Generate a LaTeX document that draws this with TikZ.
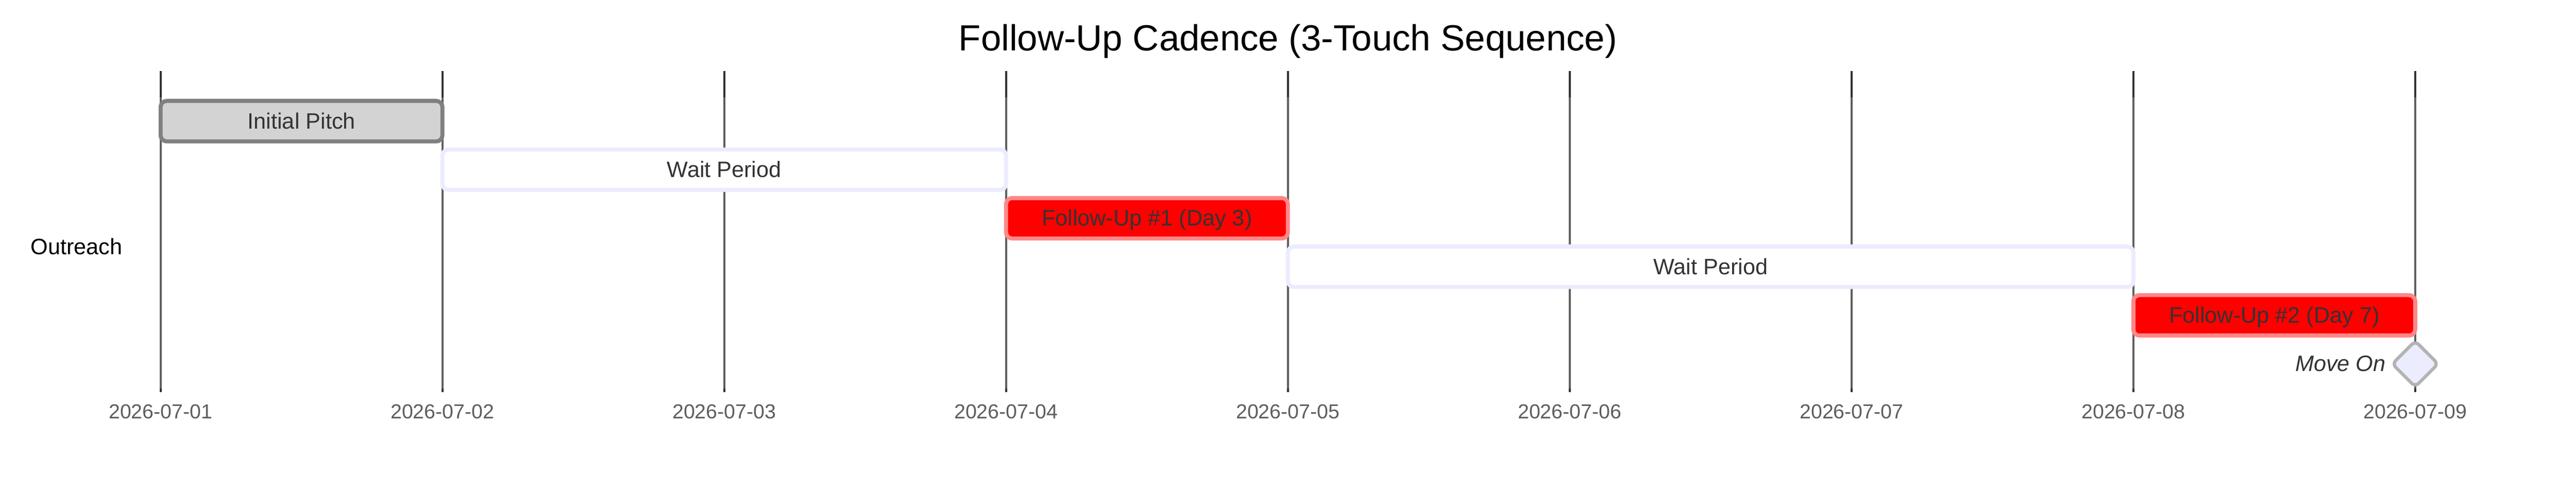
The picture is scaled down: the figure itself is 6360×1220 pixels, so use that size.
\documentclass[tikz,border=0pt]{standalone}
\usepackage{fontspec}
\setmainfont{Liberation Sans}
\definecolor{gridgray}{HTML}{606060}
\definecolor{griddark}{HTML}{333333}
\definecolor{txtdark}{HTML}{333333}
\definecolor{tickgray}{HTML}{5E5E5E}
\definecolor{donefill}{HTML}{D3D3D3}
\definecolor{donestroke}{HTML}{808080}
\definecolor{waitstroke}{HTML}{ECECFF}
\definecolor{critfill}{HTML}{FF0000}
\definecolor{critstroke}{HTML}{FF8888}
\definecolor{msfill}{HTML}{ECECFF}
\definecolor{msstroke}{HTML}{B3B3B3}
\tikzset{
  gridln/.style={draw=gridgray, line width=1.25pt},
  griddk/.style={draw=griddark, line width=1.25pt},
  barbase/.style={rectangle, rounded corners=3.75pt, line width=2.5pt, minimum height=25pt, inner sep=0pt},
  donebar/.style={barbase, draw=donestroke, fill=donefill},
  waitbar/.style={barbase, draw=waitstroke, fill=white},
  critbar/.style={barbase, draw=critstroke, fill=critfill},
  msbox/.style={rectangle, rotate=45, minimum size=20pt, inner sep=0pt, rounded corners=3pt, line width=2pt, draw=msstroke, fill=msfill},
  tasklbl/.style={anchor=base, inner sep=0pt, text=txtdark, font=\fontsize{13.75pt}{16pt}\selectfont},
  ticklbl/.style={anchor=base, inner sep=0pt, text=tickgray, font=\fontsize{12.5pt}{15pt}\selectfont},
  seclbl/.style={anchor=base west, inner sep=0pt, text=black, font=\fontsize{13.75pt}{16pt}\selectfont},
  mslbl/.style={anchor=base east, inner sep=0pt, text=txtdark, font=\fontsize{13.75pt}{16pt}\selectfont\itshape},
  titlelbl/.style={anchor=base, inner sep=0pt, text=black, font=\fontsize{22.5pt}{27pt}\selectfont},
}
\begin{document}
\begin{tikzpicture}[x=0.25pt, y=-0.25pt]
\useasboundingbox[fill=white] (0,0) rectangle (6360,1220);
% title
\node[titlelbl] (title) at (3180,125) {Follow-Up Cadence (3-Touch Sequence)};
% grid lines and tick labels
\foreach \i/\d in {0/01,1/02,2/03,3/04,4/05,5/06,6/07,7/08,8/09} {
  \pgfmathsetmacro{\gx}{396.5+695.8*\i}
  \draw[gridln] (\gx,175) -- (\gx,969);
  \draw[griddk] (\gx,175) -- (\gx,240);
  \draw[griddk] (\gx,960) -- (\gx,969);
  \node[ticklbl] (tick\i) at (\gx,1035) {2026-07-\d};
}
% section label
\node[seclbl] (sec) at (75,629) {Outreach};
% bars
\node[donebar, minimum width=173.95pt] (b1) at (744.4,299.5) {};
\node[tasklbl] (t1) at (744.4,318) {Initial Pitch};
\node[waitbar, minimum width=347.9pt] (b2) at (1788.1,419.5) {};
\node[tasklbl] (t2) at (1788.1,438.3) {Wait Period};
\node[critbar, minimum width=173.95pt] (b3) at (2831.8,539.5) {};
\node[tasklbl] (t3) at (2831.8,558) {Follow-Up \#1 (Day 3)};
\node[waitbar, minimum width=521.85pt] (b4) at (4223.4,659.5) {};
\node[tasklbl] (t4) at (4223.4,678.3) {Wait Period};
\node[critbar, minimum width=173.95pt] (b5) at (5615.0,779.5) {};
\node[tasklbl] (t5) at (5615.0,798) {Follow-Up \#2 (Day 7)};
% milestone
\node[msbox] (ms) at (5962.9,899.5) {};
\node[mslbl] (mst) at (5891,918) {Move On};
\end{tikzpicture}
\end{document}
